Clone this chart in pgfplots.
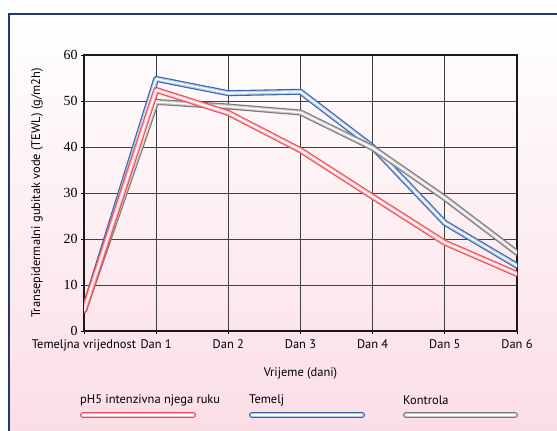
\documentclass[border=0pt]{standalone}
\usepackage{pgfplots}
\pgfplotsset{compat=1.18}
\usepackage{fontspec}
\setmainfont{PT Sans}
\newfontfamily\numfont{Liberation Serif}

\definecolor{framecol}{RGB}{28,58,118}
\definecolor{pinkbg}{RGB}{250,220,228}
\definecolor{redout}{RGB}{235,75,85}
\definecolor{redin}{RGB}{250,185,190}
\definecolor{blueout}{RGB}{60,100,170}
\definecolor{bluein}{RGB}{175,198,232}
\definecolor{grayout}{RGB}{120,120,120}
\definecolor{grayin}{RGB}{200,200,200}

% tube-like line: coloured rim, light body, white centre
\tikzset{
  tube/.style 2 args={draw=#1, line width=6bp, line cap=round, line join=round,
    postaction={draw=#2, line width=3.8bp},
    postaction={draw=white, line width=1.4bp}}
}

\begin{document}
\begin{tikzpicture}[x=1bp,y=1bp]
  \useasboundingbox (-84,-99) rectangle (473,331);
  \clip (-84,-99) rectangle (473,331);
  % page background and frame
  \shade[top color=white, bottom color=pinkbg] (-75,-120) rectangle (490,317);
  \draw[framecol, line width=2.2bp] (-75,-120) -- (-75,317) -- (490,317);

  \begin{axis}[
      at={(0,0)}, anchor=south west,
      scale only axis,
      width=433bp, height=276bp,
      xmin=0, xmax=6, ymin=0, ymax=60,
      xtick={0,1,2,3,4,5,6},
      xticklabels={Temeljna vrijednost, Dan 1, Dan 2, Dan 3, Dan 4, Dan 5, Dan 6},
      ytick={0,10,20,30,40,50,60},
      tick pos=left,
      tick align=outside,
      major tick length=3bp,
      tick style={black, line width=0.9bp},
      grid=major,
      major grid style={black!75, line width=1bp},
      axis line style={black!90, line width=2bp},
      /pgf/number format/assume math mode=true,
      y tick label style={font=\numfont\fontsize{14}{16}\selectfont, black},
      x tick label style={font=\fontsize{12.5}{14}\selectfont, black, yshift=-2bp},
      xlabel={Vrijeme (dani)},
      ylabel={Transepidermalni gubitak vode (TEWL) (g/m2h)},
      every axis x label/.style={at={(axis description cs:0.5,0)}, anchor=center,
        yshift=-42bp, font=\fontsize{12.5}{14}\selectfont},
      every axis y label/.style={at={(axis description cs:0,0.5)}, xshift=-47bp,
        rotate=90, anchor=center, font=\fontsize{12.5}{14}\selectfont},
    ]
    % Temelj
    \addplot[tube={blueout}{bluein}] coordinates {
      (0,4.5) (1,54.8) (2,51.7) (3,52.0) (4,40.0) (5,23.5) (6,14.2)
    };
    % Kontrola
    \addplot[tube={grayout}{grayin}] coordinates {
      (0,4.5) (1,49.8) (2,48.8) (3,47.5) (4,39.8) (5,28.9) (6,17.0)
    };
    % pH5 intenzivna njega ruku
    \addplot[tube={redout}{redin}] coordinates {
      (0,4.5) (1,52.4) (2,47.4) (3,39.3) (4,29.2) (5,19.2) (6,12.4)
    };
  \end{axis}

  % legend: text above a line sample
  \begin{scope}[font=\fontsize{12.5}{14}\selectfont]
    \node[anchor=west, inner sep=0pt] at (-4,-69) {pH5 intenzivna njega ruku};
    \node[anchor=west, inner sep=0pt] at (165,-69) {Temelj};
    \node[anchor=west, inner sep=0pt] at (319,-69) {Kontrola};
  \end{scope}
  \draw[tube={redout}{redin}] (-1,-84) -- (109,-84);
  \draw[tube={blueout}{bluein}] (168,-84) -- (278,-84);
  \draw[tube={grayout}{grayin}] (322,-84) -- (431,-84);
\end{tikzpicture}
\end{document}
